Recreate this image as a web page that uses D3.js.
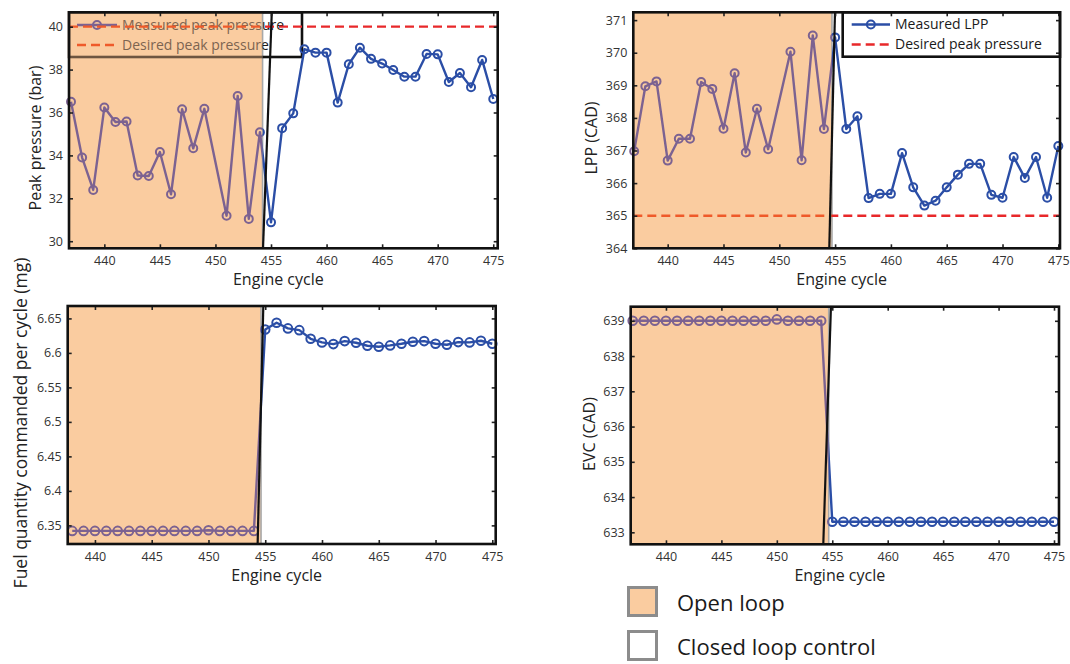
<!DOCTYPE html>
<html>
<head>
<meta charset="utf-8">
<script src="https://cdn.jsdelivr.net/npm/d3@7"></script>
<style>
  html, body { margin: 0; padding: 0; background: #fff; }
  svg { display: block; font-family: "Open Sans", "Noto Sans", sans-serif; }
</style>
</head>
<body>
<svg id="chart" width="1070" height="664"></svg>
<script>
// ---- data -------------------------------------------------------------
const xTicks = [440, 445, 450, 455, 460, 465, 470, 475];

// Peak pressure (bar) per engine cycle
const peakCycles = [437,438,439,440,441,442,443,444,445,446,447,448,449,
                    451,452,453,454,455,456,457,458,459,460,461,462,463,464,465,
                    466,467,468,469,470,471,472,473,474,475];
const peakPressure = [36.50,33.90,32.39,36.23,35.56,35.58,33.06,33.04,34.16,32.19,36.15,34.33,36.17,
                      31.19,36.77,31.04,35.08,30.88,35.27,35.96,38.95,38.79,38.79,36.46,38.25,39.02,38.50,38.28,
                      37.98,37.67,37.67,38.73,38.71,37.42,37.84,37.18,38.45,36.63];
const peakDesired = 40;
const peakTicks = [30, 32, 34, 36, 38, 40];

// Location of peak pressure (CAD) per engine cycle
const lppCycles = peakCycles;
const lppValues = [366.98,368.97,369.12,366.69,367.36,367.36,369.10,368.89,367.67,369.37,366.94,368.28,367.04,
                   370.03,366.70,370.53,367.66,370.47,367.66,368.05,365.54,365.67,365.67,366.92,365.87,365.31,365.46,365.87,
                   366.26,366.59,366.59,365.64,365.55,366.80,366.16,366.80,365.55,367.14];
const lppDesired = 365;
const lppTicks = [364, 365, 366, 367, 368, 369, 370, 371];

// Fuel quantity commanded per cycle (mg)
const fuelCycles = [438,439,440,441,442,443,444,445,446,447,448,449,450,451,452,453,454,
                    455,456,457,458,459,460,461,462,463,464,465,466,467,468,469,470,471,472,473,474,475];
const fuelValues = [6.342,6.342,6.342,6.342,6.342,6.342,6.342,6.342,6.342,6.342,6.342,6.342,6.343,6.342,6.342,6.342,6.342,
                    6.634,6.6437,6.6355,6.633,6.6205,6.6152,6.6128,6.6171,6.6147,6.6104,6.6089,6.6109,6.6133,6.6162,6.6171,
                    6.6133,6.6118,6.6157,6.6152,6.6176,6.6133];
const fuelTicks = [6.35, 6.4, 6.45, 6.5, 6.55, 6.6, 6.65];

// Exhaust valve closing (CAD)
const evcCycles = [437,438,439,440,441,442,443,444,445,446,447,448,449,450,451,452,453,454,
                   455,456,457,458,459,460,461,462,463,464,465,466,467,468,469,470,471,472,473,474,475];
const evcValues = [639,639,639,639,639,639,639,639,639,639,639,639,639,639.04,639,639,639,639,
                   633.3,633.3,633.3,633.3,633.3,633.3,633.3,633.3,633.3,633.3,633.3,633.3,633.3,633.3,633.3,
                   633.3,633.3,633.3,633.3,633.3,633.3];
const evcTicks = [633, 634, 635, 636, 637, 638, 639];

// Open-loop window end (engine cycle) for each panel, and the switch-over marker
const openLoopEnd = [454.24, 454.72, 454.63, 454.68];
const switchBottom = [454.28, 454.48, 454.33, 454.19];
const switchTop = [455.07, 454.99, 454.83, 454.88];

const regionLabels = ["Open loop", "Closed loop control"];

// ---- styling ------------------------------------------------------------
const ORANGE = "#facca0";
const palettes = {
  open:   { series: "#7c6291", desired: "#ef5a2a", ink: "#7d6450", frame: "#6e5540" },
  closed: { series: "#2b4ea6", desired: "#e8282a", ink: "#1a1a1a", frame: "#111" }
};

const svg = d3.select("#chart");
const defs = svg.append("defs");

function drawPanel(idx, cfg) {
  const x = d3.scaleLinear().domain(cfg.xDomain).range([cfg.left, cfg.right]);
  const y = d3.scaleLinear().domain(cfg.yDomain).range([cfg.bottom, cfg.top]);
  const g = svg.append("g");
  const xe = x(openLoopEnd[idx]);

  // clip regions for open-loop / closed-loop rendering
  defs.append("clipPath").attr("id", "open" + idx)
    .append("rect").attr("x", cfg.left - 20).attr("y", cfg.top - 20)
    .attr("width", xe - cfg.left + 20).attr("height", cfg.bottom - cfg.top + 40);
  defs.append("clipPath").attr("id", "closed" + idx)
    .append("rect").attr("x", xe).attr("y", cfg.top - 20)
    .attr("width", cfg.right - xe + 20).attr("height", cfg.bottom - cfg.top + 40);

  // open-loop shading
  g.append("rect")
    .attr("x", cfg.left).attr("y", cfg.top)
    .attr("width", xe - cfg.left).attr("height", cfg.bottom - cfg.top)
    .attr("fill", ORANGE);
  g.append("line")
    .attr("x1", xe).attr("x2", xe).attr("y1", cfg.top).attr("y2", cfg.bottom)
    .attr("stroke", "#a8a8a8").attr("stroke-width", 1.6);

  const lineGen = d3.line().x(d => x(d[0])).y(d => y(d[1]));
  const pts = cfg.xs.map((c, i) => [c, cfg.ys[i]]);

  ["open", "closed"].forEach(mode => {
    const pal = palettes[mode];
    const layer = g.append("g").attr("clip-path", `url(#${mode}${idx})`);

    if (cfg.legend) {
      const L = cfg.legend;
      const lg = layer.append("g");
      lg.append("rect")
        .attr("x", L.x0).attr("y", cfg.top).attr("width", L.x1 - L.x0).attr("height", L.y1 - cfg.top)
        .attr("fill", "none").attr("stroke", pal.frame).attr("stroke-width", 2.6);
      lg.append("line")
        .attr("x1", L.sx0).attr("x2", L.sx1).attr("y1", L.row1).attr("y2", L.row1)
        .attr("stroke", pal.series).attr("stroke-width", 2.4);
      lg.append("circle")
        .attr("cx", (L.sx0 + L.sx1) / 2).attr("cy", L.row1).attr("r", 4)
        .attr("fill", "none").attr("stroke", pal.series).attr("stroke-width", 2);
      lg.append("line")
        .attr("x1", L.sx0).attr("x2", L.sx1).attr("y1", L.row2).attr("y2", L.row2)
        .attr("stroke", pal.desired).attr("stroke-width", 2.4).attr("stroke-dasharray", "9,5");
      L.labels.forEach((t, i) => {
        lg.append("text")
          .attr("x", L.sx1 + 5).attr("y", i === 0 ? L.row1 : L.row2)
          .attr("dy", "0.35em").attr("font-size", 14).attr("fill", pal.ink).text(t);
      });
    }

    if (cfg.desired !== undefined) {
      layer.append("line")
        .attr("x1", cfg.left).attr("x2", cfg.right)
        .attr("y1", y(cfg.desired)).attr("y2", y(cfg.desired))
        .attr("stroke", pal.desired).attr("stroke-width", 2.4).attr("stroke-dasharray", "9,5");
    }

    layer.append("path").datum(pts)
      .attr("d", lineGen).attr("fill", "none")
      .attr("stroke", pal.series).attr("stroke-width", 2.4).attr("stroke-linejoin", "round");
    layer.selectAll("circle.pt").data(pts).enter().append("circle")
      .attr("class", "pt")
      .attr("cx", d => x(d[0])).attr("cy", d => y(d[1])).attr("r", cfg.r || 4)
      .attr("fill", "none").attr("stroke", pal.series).attr("stroke-width", 2);
  });

  // switch-over marker
  g.append("line")
    .attr("x1", x(switchBottom[idx])).attr("y1", cfg.bottom)
    .attr("x2", x(switchTop[idx])).attr("y2", cfg.top)
    .attr("stroke", "#111").attr("stroke-width", 2.2);

  // axes with inward ticks on all sides
  const tickFont = sel => sel.selectAll("text").attr("font-size", 12.5).attr("fill", "#333")
    .attr("font-family", "'Open Sans', sans-serif");
  const clean = sel => { sel.select(".domain").remove(); sel.selectAll("line").attr("stroke", "#222").attr("stroke-width", 1.6); };

  g.append("g").attr("transform", `translate(0,${cfg.bottom})`)
    .call(d3.axisBottom(x).tickValues(xTicks).tickSize(-4).tickPadding(8))
    .call(clean).call(tickFont);
  g.append("g").attr("transform", `translate(0,${cfg.top})`)
    .call(d3.axisTop(x).tickValues(xTicks).tickSize(-4).tickFormat(""))
    .call(clean);
  g.append("g").attr("transform", `translate(${cfg.left},0)`)
    .call(d3.axisLeft(y).tickValues(cfg.yTicks).tickSize(-4).tickPadding(6).tickFormat(cfg.yFormat || d3.format("d")))
    .call(clean).call(tickFont);
  g.append("g").attr("transform", `translate(${cfg.right},0)`)
    .call(d3.axisRight(y).tickValues(cfg.yTicks).tickSize(-4).tickFormat(""))
    .call(clean);

  // frame
  g.append("rect")
    .attr("x", cfg.left).attr("y", cfg.top)
    .attr("width", cfg.right - cfg.left).attr("height", cfg.bottom - cfg.top)
    .attr("fill", "none").attr("stroke", "#111").attr("stroke-width", 2.6);

  // titles
  g.append("text")
    .attr("x", (cfg.left + cfg.right) / 2 - 5).attr("y", cfg.bottom + 37)
    .attr("text-anchor", "middle").attr("font-size", 16).attr("fill", "#222")
    .text("Engine cycle");
  g.append("text")
    .attr("transform", `translate(${cfg.ylabX},${cfg.ylabY}) rotate(-90)`)
    .attr("text-anchor", "middle").attr("dy", "0.35em").attr("font-size", cfg.ylabSize || 16).attr("fill", "#222")
    .text(cfg.yLabel);
}

drawPanel(0, {
  left: 69, right: 497.7, top: 12.3, bottom: 248.3,
  xDomain: [436.82, 475.4], yDomain: [29.67, 40.67], yTicks: peakTicks,
  xs: peakCycles, ys: peakPressure, desired: peakDesired,
  yLabel: "Peak pressure (bar)", ylabX: 35, ylabY: 138,
  legend: { x0: 69, x1: 302, y1: 57, sx0: 77, sx1: 117, row1: 25, row2: 45,
            labels: ["Measured peak pressure", "Desired peak pressure"] }
});

drawPanel(1, {
  left: 633.3, right: 1060, top: 12.3, bottom: 248.3,
  xDomain: [436.92, 475.15], yDomain: [364, 371.24], yTicks: lppTicks,
  xs: lppCycles, ys: lppValues, desired: lppDesired,
  yLabel: "LPP (CAD)", ylabX: 591, ylabY: 138,
  legend: { x0: 842.7, x1: 1060, y1: 56.7, sx0: 851.7, sx1: 890, row1: 24.5, row2: 44.5,
            labels: ["Measured LPP", "Desired peak pressure"] }
});

drawPanel(2, {
  left: 67.7, right: 495.7, top: 306, bottom: 544,
  xDomain: [437.6, 475.3], yDomain: [6.323, 6.668], yTicks: fuelTicks,
  yFormat: d3.format(""), xs: fuelCycles, ys: fuelValues, r: 4.3,
  yLabel: "Fuel quantity commanded per cycle (mg)", ylabX: 21, ylabY: 423, ylabSize: 17.5
});

drawPanel(3, {
  left: 630.7, right: 1059, top: 306.7, bottom: 544.3,
  xDomain: [436.82, 475.45], yDomain: [632.66, 639.4], yTicks: evcTicks,
  xs: evcCycles, ys: evcValues, r: 4.3,
  yLabel: "EVC (CAD)", ylabX: 589, ylabY: 434
});

// region key
const key = svg.append("g");
regionLabels.forEach((t, i) => {
  const yTop = [586, 630][i];
  key.append("rect")
    .attr("x", 628.5).attr("y", yTop + 1.5).attr("width", 28).attr("height", 28)
    .attr("fill", i === 0 ? ORANGE : "#fff")
    .attr("stroke", "#8c8c8c").attr("stroke-width", 3);
  key.append("text")
    .attr("x", 677).attr("y", yTop + 17).attr("dy", "0.35em")
    .attr("font-size", 22).attr("fill", "#1a1a1a").text(t);
});
</script>
</body>
</html>
